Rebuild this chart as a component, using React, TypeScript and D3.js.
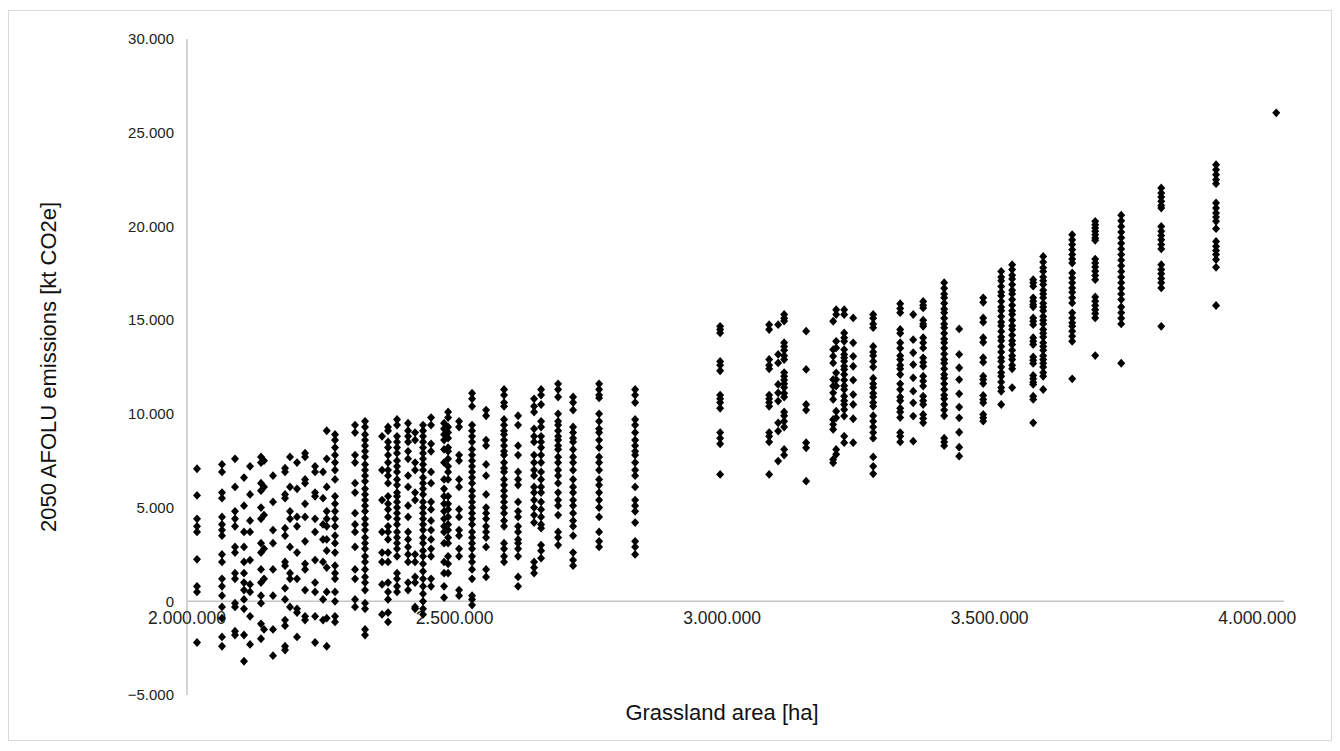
import React from "react";
import * as d3 from "d3";

// Grassland area of each scenario column [ha]
const columnAreas: number[] = [
  2018700, 2065400, 2089700, 2106500, 2117800, 2138300, 2143900, 2160700, 2183200, 2192500,
  2205600, 2220600, 2239300, 2254200, 2261100, 2276600, 2314000, 2332700, 2364500, 2375700,
  2392500, 2413100, 2426200, 2441100, 2456100, 2480400, 2487900, 2508400, 2532700, 2558900,
  2592500, 2618700, 2648600, 2661700, 2693500, 2721500, 2770100, 2837400, 2996300, 3087900,
  3104700, 3115900, 3157000, 3207500, 3213100, 3228100, 3244900, 3282300, 3332800, 3357100,
  3375700, 3415000, 3443000, 3487900, 3521500, 3542000, 3581300, 3600000, 3654200, 3697200,
  3745800, 3820600, 3923000, 4035500,
];

// 2050 AFOLU emissions of the runs in each column [thousand kt CO2e]
const columnEmissions: number[][] = [
  [7.07, 5.65, 4.4, 4.0, 3.7, 2.24, 0.8, 0.5, -2.2],
  [7.3, 6.9, 5.8, 5.5, 4.5, 4.1, 3.8, 3.5, 2.5, 2.1, 1.2, 0.8, 0.3, -0.3, -0.9, -1.9, -2.4],
  [7.6, 6.1, 4.8, 4.4, 4.0, 2.9, 2.6, 1.5, 1.2, -0.1, -0.3, -1.6, -1.8],
  [6.6, 5.1, 3.7, 2.9, 2.1, 1.5, 1.0, 0.6, 0.1, -0.4, -1.8, -3.2],
  [7.2, 5.7, 4.3, 3.7, 2.2, 0.9, 0.5, -0.8, -2.3],
  [7.7, 7.4, 6.3, 5.9, 5.0, 4.4, 3.1, 2.6, 1.7, 1.0, 0.3, -0.1, -1.2, -2.0],
  [7.5, 6.1, 4.6, 2.8, 1.2, -1.5],
  [6.7, 5.3, 3.8, 3.1, 1.7, 0.3, -1.5, -2.9],
  [7.1, 6.9, 5.7, 5.5, 3.9, 3.5, 2.1, 1.9, 0.7, 0.1, -1.0, -1.3, -2.4, -2.6],
  [7.7, 6.1, 4.8, 4.4, 2.9, 1.5, 1.2, -0.3],
  [7.4, 6.0, 4.5, 4.0, 2.6, 1.2, -0.4, -0.6, -1.9],
  [7.9, 7.7, 6.5, 6.3, 5.2, 4.5, 3.2, 2.0, 1.7, 0.6, -0.8, -1.0],
  [7.2, 6.9, 5.8, 5.6, 4.4, 3.7, 2.2, 1.0, 0.5, -0.8, -2.2],
  [6.9, 5.5, 4.1, 3.3, 2.1, 0.1, -1.0],
  [9.1, 7.6, 6.1, 4.8, 4.4, 4.0, 3.3, 2.7, 1.8, 0.5, -0.9, -2.4],
  [8.9, 8.6, 8.2, 7.8, 7.4, 7.0, 6.5, 5.6, 5.2, 4.8, 4.4, 4.0, 3.5, 3.1, 2.6, 1.9, 1.5, 1.2, 0.5, 0.0, -0.8, -1.1],
  [9.4, 9.0, 7.8, 7.4, 6.3, 5.8, 4.7, 4.1, 3.7, 2.9, 1.7, 1.2, 0.1, -0.3],
  [9.6, 9.3, 8.9, 8.6, 8.3, 8.0, 7.7, 7.3, 7.0, 6.7, 6.4, 6.0, 5.7, 5.4, 5.1, 4.8, 4.4, 4.1, 3.8, 3.4, 3.1, 2.8, 2.4, 2.1, 1.7, 1.3, 1.0, 0.6, -0.1, -0.4, -1.5, -1.8],
  [8.8, 7.0, 5.4, 3.7, 2.6, 2.1, 0.9, -0.7],
  [9.3, 9.1, 8.5, 8.2, 7.8, 7.4, 7.0, 6.7, 6.3, 5.6, 5.2, 4.9, 4.5, 4.0, 3.7, 3.3, 2.6, 2.1, 1.0, 0.5, 0.1, -0.6, -1.1],
  [9.7, 9.4, 8.8, 8.5, 8.2, 7.9, 7.5, 7.2, 6.9, 6.5, 6.2, 5.8, 5.6, 5.3, 5.0, 4.7, 4.4, 4.1, 3.7, 3.4, 3.1, 2.8, 2.4, 1.5, 1.2, 0.8, 0.5],
  [9.5, 9.1, 8.8, 8.5, 8.0, 7.6, 6.7, 6.1, 5.1, 4.5, 3.7, 3.3, 2.9, 2.5, 2.1, 1.0, 0.6],
  [9.0, 8.6, 7.4, 7.0, 5.8, 5.4, 2.5, 2.1, 1.3, 1.0, -0.3, -0.4],
  [9.4, 9.1, 8.8, 8.5, 8.2, 7.9, 7.6, 7.3, 7.0, 6.6, 6.3, 6.0, 5.7, 5.3, 5.0, 4.7, 4.4, 4.1, 3.8, 3.4, 3.1, 2.7, 2.4, 2.0, 1.6, 1.2, 0.8, 0.4, 0.0, -0.4, -0.7],
  [9.8, 9.4, 8.4, 8.0, 6.9, 6.3, 5.3, 4.9, 4.3, 3.8, 3.3, 2.8, 2.4, 1.2, 0.8],
  [9.5, 9.2, 8.9, 8.6, 8.1, 7.4, 6.5, 6.0, 5.6, 5.2, 4.8, 4.4, 4.0, 3.7, 3.1, 2.1, 1.5, 0.8, 0.2],
  [10.1, 9.8, 9.3, 9.0, 8.7, 8.2, 8.0, 7.6, 7.2, 6.9, 6.5, 5.6, 5.2, 4.9, 4.5, 4.1, 3.8, 3.4, 3.1, 2.4, 2.0, 1.5],
  [9.6, 9.3, 7.8, 7.5, 6.5, 6.1, 4.9, 4.5, 3.8, 3.5, 2.8, 2.4, 0.6, 0.3],
  [11.1, 10.8, 10.4, 9.4, 9.1, 8.8, 8.5, 8.1, 7.8, 7.5, 7.2, 6.9, 6.6, 6.3, 5.9, 5.6, 5.3, 5.0, 4.7, 4.4, 4.1, 3.7, 3.4, 3.1, 2.8, 2.4, 2.1, 1.7, 1.2, 0.3, 0.1, -0.2],
  [10.2, 9.9, 8.6, 8.3, 7.3, 6.7, 5.7, 5.0, 4.7, 4.4, 4.0, 3.7, 3.4, 2.9, 1.7, 1.3],
  [11.3, 11.0, 10.6, 10.4, 9.7, 9.4, 9.1, 8.9, 8.6, 8.3, 8.0, 7.8, 7.4, 7.1, 6.9, 6.5, 6.2, 5.9, 5.6, 5.3, 5.0, 4.7, 4.3, 4.0, 3.1, 2.8, 2.4, 2.1],
  [9.9, 9.4, 8.3, 7.8, 6.9, 6.5, 6.2, 5.3, 4.8, 4.5, 4.0, 3.7, 3.3, 3.1, 2.8, 2.4, 1.3, 0.8],
  [10.8, 10.4, 10.1, 9.2, 8.8, 8.5, 7.8, 7.4, 7.0, 6.7, 6.1, 5.8, 5.4, 5.0, 4.6, 4.2, 2.1, 1.8, 1.5],
  [11.3, 11.0, 10.5, 9.6, 9.3, 8.8, 8.5, 8.2, 7.8, 7.4, 6.9, 6.5, 6.1, 5.8, 5.3, 4.9, 4.5, 4.1, 3.9, 3.0, 2.7, 2.3],
  [11.6, 11.3, 10.9, 10.0, 9.6, 9.4, 9.1, 8.8, 8.6, 8.3, 8.1, 7.7, 7.4, 7.0, 6.7, 6.3, 5.8, 5.4, 5.1, 4.6, 3.7, 3.4, 3.0],
  [10.9, 10.6, 10.2, 9.3, 9.0, 8.7, 8.5, 8.1, 7.7, 7.4, 7.0, 6.5, 6.1, 5.8, 5.4, 5.1, 4.7, 4.3, 4.0, 3.5, 2.6, 2.2, 1.9],
  [11.6, 11.3, 11.0, 10.85, 10.0, 9.6, 9.2, 9.0, 8.6, 8.2, 7.7, 7.4, 7.0, 6.5, 6.2, 5.8, 5.4, 5.0, 4.5, 3.7, 3.2, 2.9],
  [11.3, 11.0, 10.6, 9.7, 9.4, 9.0, 8.6, 8.3, 8.0, 7.8, 7.4, 7.0, 6.7, 6.1, 5.4, 5.1, 4.8, 4.2, 3.2, 2.9, 2.5],
  [14.67, 14.5, 14.32, 12.8, 12.6, 12.3, 11.0, 10.8, 10.6, 10.3, 9.0, 8.7, 8.4, 6.77],
  [14.76, 14.5, 12.9, 12.6, 12.4, 11.0, 10.8, 10.6, 10.4, 9.0, 8.8, 8.5, 6.77],
  [14.76, 13.17, 12.72, 11.57, 11.12, 10.68, 9.52, 9.08, 7.48],
  [15.3, 15.1, 14.95, 13.8, 13.6, 13.4, 13.1, 12.9, 12.2, 12.0, 11.8, 11.6, 11.4, 11.1, 10.9, 10.1, 9.9, 9.6, 9.3, 8.1, 7.8],
  [14.41, 12.37, 10.5, 10.2, 8.46, 8.19, 6.41],
  [14.94, 13.43, 13.08, 12.72, 11.83, 11.48, 11.12, 10.77, 9.7, 9.43, 9.17, 7.57, 7.39],
  [15.56, 15.3, 13.87, 13.52, 12.19, 11.83, 11.48, 10.14, 9.79, 8.1, 7.84],
  [15.56, 15.3, 14.32, 14.06, 13.87, 13.43, 13.17, 12.99, 12.81, 12.54, 12.37, 12.1, 11.8, 11.5, 11.3, 10.94, 10.7, 10.5, 10.23, 9.88, 8.81, 8.46],
  [15.12, 13.79, 13.07, 12.54, 11.8, 11.03, 10.5, 9.74, 8.46],
  [15.3, 15.1, 14.8, 14.6, 13.6, 13.3, 13.1, 12.8, 12.5, 11.9, 11.6, 11.4, 11.1, 10.9, 10.6, 10.4, 9.9, 9.6, 9.3, 9.0, 8.7, 7.7, 7.2, 6.8],
  [15.88, 15.62, 15.4, 14.5, 14.3, 13.8, 13.5, 13.1, 12.9, 12.6, 12.4, 12.1, 11.6, 11.3, 10.9, 10.7, 10.3, 10.1, 9.8, 9.0, 8.8, 8.5],
  [15.3, 13.96, 13.26, 12.63, 11.92, 11.21, 10.59, 9.88, 8.54],
  [16.0, 15.8, 15.65, 15.0, 14.8, 14.67, 14.06, 13.8, 13.52, 12.99, 12.75, 12.54, 12.01, 11.75, 11.48, 10.94, 10.7, 10.5, 9.97, 9.75, 9.52],
  [17.0, 16.7, 16.4, 16.2, 15.9, 15.6, 15.4, 15.1, 14.8, 14.6, 14.3, 14.0, 13.8, 13.5, 13.2, 12.9, 12.7, 12.4, 12.1, 11.9, 11.6, 11.3, 11.0, 10.8, 10.5, 10.2, 9.9, 8.7, 8.5, 8.3],
  [14.53, 13.17, 12.46, 11.83, 11.07, 10.36, 9.79, 9.02, 8.22, 7.74],
  [16.19, 15.95, 15.12, 14.89, 14.06, 13.82, 13.0, 12.76, 12.01, 11.83, 11.62, 10.98, 10.77, 10.59, 9.97, 9.79, 9.61],
  [17.6, 17.3, 17.1, 16.8, 16.5, 16.3, 16.0, 15.7, 15.5, 15.2, 14.9, 14.7, 14.4, 14.1, 13.9, 13.6, 13.3, 13.0, 12.8, 12.5, 12.2, 12.0, 11.7, 11.4, 11.2, 10.5],
  [17.96, 17.7, 17.4, 17.2, 16.9, 16.6, 16.4, 16.1, 15.8, 15.5, 15.3, 15.0, 14.7, 14.5, 14.2, 13.9, 13.7, 13.4, 13.1, 12.9, 12.6, 12.4, 11.4],
  [17.16, 16.99, 16.81, 16.19, 16.01, 15.83, 15.71, 15.12, 14.94, 14.76, 14.06, 13.87, 13.7, 13.04, 12.86, 12.69, 12.05, 11.87, 11.69, 11.57, 10.94, 10.77, 9.52],
  [18.4, 18.1, 17.8, 17.6, 17.3, 17.1, 16.9, 16.6, 16.4, 16.2, 15.9, 15.7, 15.5, 15.2, 15.0, 14.8, 14.5, 14.3, 14.1, 13.8, 13.6, 13.4, 13.1, 12.9, 12.7, 12.5, 12.2, 12.0, 11.3],
  [19.56, 19.29, 19.03, 18.76, 18.5, 18.26, 18.05, 17.52, 17.25, 16.99, 16.72, 16.49, 16.19, 15.92, 15.39, 15.12, 14.86, 14.68, 14.41, 14.14, 13.87, 11.87],
  [20.27, 20.09, 19.92, 19.74, 19.56, 19.38, 19.26, 18.26, 18.05, 17.84, 17.61, 17.38, 17.16, 16.24, 16.01, 15.78, 15.56, 15.35, 15.12, 13.11],
  [20.6, 20.3, 20.0, 19.7, 19.4, 19.1, 18.8, 18.5, 18.2, 17.9, 17.6, 17.3, 17.0, 16.7, 16.4, 16.1, 15.7, 15.4, 15.1, 14.8, 12.7],
  [22.05, 21.78, 21.57, 21.34, 21.11, 20.98, 20.0, 19.74, 19.51, 19.29, 19.03, 18.8, 17.96, 17.7, 17.47, 17.22, 16.99, 16.72, 14.67],
  [23.29, 23.03, 22.76, 22.49, 22.28, 21.25, 20.98, 20.72, 20.5, 20.27, 19.88, 19.2, 18.94, 18.72, 18.5, 18.23, 17.82, 15.78],
  [26.06],
];

const xTicks: number[] = [2000000, 2500000, 3000000, 3500000, 4000000];
const yTicks: number[] = [-5000, 0, 5000, 10000, 15000, 20000, 25000, 30000];

const xTitle = "Grassland area [ha]";
const yTitle = "2050 AFOLU emissions [kt CO2e]";

const WIDTH = 1340;
const HEIGHT = 751;
const plot = { left: 187, right: 1284, top: 39, bottom: 695 };

const locale = d3.formatLocale({ decimal: ",", thousands: ".", grouping: [3], currency: ["", "€"] });
const fmt = locale.format(",d");

const FONT = "'Liberation Sans', Arial, Helvetica, sans-serif";
const AXIS_COLOR = "#c6c6c6";

export default function App() {
  const x = d3.scaleLinear().domain([2000000, 4050000]).range([plot.left, plot.right]);
  const y = d3.scaleLinear().domain([-5000, 30000]).range([plot.bottom, plot.top]);

  const points = columnAreas.flatMap((area, i) =>
    columnEmissions[i].map((v) => ({ area, kt: v * 1000 }))
  );

  // diamond marker, slightly taller than wide
  const rx = 4.0;
  const ry = 4.4;
  const diamond = `M0,${-ry}L${rx},0L0,${ry}L${-rx},0Z`;
  const y0 = y(0);

  return (
    <svg
      width={WIDTH}
      height={HEIGHT}
      style={{ position: "absolute", left: 0, top: 0, background: "#fff" }}
      fontFamily={FONT}
    >
      <rect x={8.5} y={10.5} width={1323} height={730} fill="#fff" stroke="#d9d9d9" strokeWidth={1} />

      {/* axes */}
      <line x1={plot.left} x2={plot.left} y1={plot.top} y2={plot.bottom} stroke={AXIS_COLOR} strokeWidth={1.5} />
      <line x1={plot.left} x2={plot.right} y1={y0} y2={y0} stroke={AXIS_COLOR} strokeWidth={1.5} />

      {/* y tick labels */}
      {yTicks.map((t) => (
        <text
          key={`y${t}`}
          x={plot.left - 13}
          y={y(t)}
          dy="0.35em"
          textAnchor="end"
          fontSize={15}
          fill="#222"
        >
          {fmt(t)}
        </text>
      ))}

      {/* x tick labels */}
      {xTicks.map((t) => (
        <text key={`x${t}`} x={x(t)} y={y0 + 23} textAnchor="middle" fontSize={17.5} fill="#222">
          {fmt(t)}
        </text>
      ))}

      {/* points */}
      <g fill="#000">
        {points.map((p, i) => (
          <path key={i} d={diamond} transform={`translate(${x(p.area)},${y(p.kt)})`} />
        ))}
      </g>

      {/* axis titles */}
      <text x={722} y={720} textAnchor="middle" fontSize={22} fill="#111">
        {xTitle}
      </text>
      <text
        transform={`translate(56,${(plot.top + plot.bottom) / 2}) rotate(-90)`}
        textAnchor="middle"
        fontSize={22}
        fill="#111"
      >
        {yTitle}
      </text>
    </svg>
  );
}
